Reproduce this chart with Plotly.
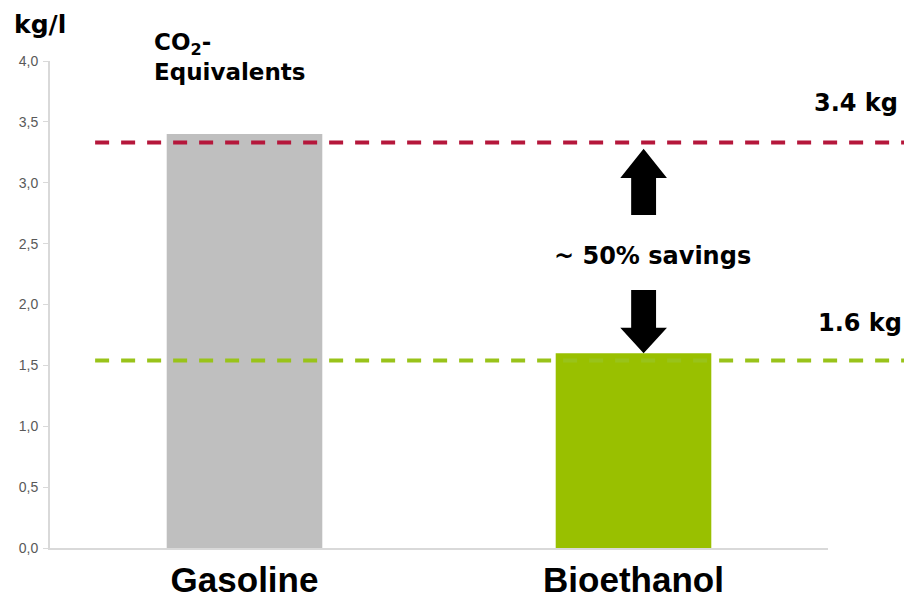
import plotly.graph_objects as go

fuels = ["Gasoline", "Bioethanol"]
co2_kg_per_l = [3.4, 1.6]
bar_colors = ["#bfbfbf", "#99c000"]
ref_levels = [3.33, 1.54]
ref_labels = ["3.4 kg", "1.6 kg"]
ref_colors = ["#b5173b", "#99c31a"]
tick_vals = [0, 0.5, 1, 1.5, 2, 2.5, 3, 3.5, 4]
tick_text = ["0,0", "0,5", "1,0", "1,5", "2,0", "2,5", "3,0", "3,5", "4,0"]

fig = go.Figure()
fig.add_trace(go.Bar(x=fuels, y=co2_kg_per_l, marker=dict(color=bar_colors, line=dict(width=0)),
                     width=0.4, hoverinfo="x+y"))

# dashed reference lines, drawn over the bars, running off to the right edge
for lvl, col in zip(ref_levels, ref_colors):
    fig.add_shape(type="line", xref="paper", yref="y", x0=0.058, x1=1.11, y0=lvl, y1=lvl,
                  line=dict(color=col, width=4, dash="14px,12px"), layer="above")

label_x = [1.093, 1.098]
label_y = [(548 - 103) / 487, (548 - 323) / 487]
for lab, lx, ly in zip(ref_labels, label_x, label_y):
    fig.add_annotation(xref="paper", yref="paper", x=lx, y=ly, text=f"<b>{lab}</b>",
                       showarrow=False, xanchor="right", yanchor="middle",
                       font=dict(family="DejaVu Sans", size=24, color="black"))

# block arrows
cx, sw, hw = 0.763, 0.016, 0.030
up = [(cx, 3.28), (cx + hw, 3.04), (cx + sw, 3.04), (cx + sw, 2.735),
      (cx - sw, 2.735), (cx - sw, 3.04), (cx - hw, 3.04)]
down = [(cx, 1.60), (cx + hw, 1.81), (cx + sw, 1.81), (cx + sw, 2.12),
        (cx - sw, 2.12), (cx - sw, 1.81), (cx - hw, 1.81)]
for pts in (up, down):
    path = "M " + " L ".join(f"{x},{y}" for x, y in pts) + " Z"
    fig.add_shape(type="path", xref="paper", yref="y", path=path,
                  fillcolor="black", line=dict(width=0), layer="above")

fig.add_annotation(xref="paper", yref="paper", x=(652 - 50) / 778, y=(548 - 256) / 487,
                   text="<b>~ 50% savings</b>", showarrow=False,
                   xanchor="center", yanchor="middle",
                   font=dict(family="DejaVu Sans", size=24, color="black"))

fig.add_annotation(xref="paper", yref="paper", x=(12 - 50) / 778, y=(548 - 24) / 487,
                   text="<b>kg/l</b>", showarrow=False, xanchor="left", yanchor="middle",
                   font=dict(family="DejaVu Sans", size=25, color="black"))
fig.add_annotation(xref="paper", yref="paper", x=(152 - 50) / 778, y=(548 - 57) / 487,
                   text="<b>CO<sub>2</sub>-<br>Equivalents</b>", showarrow=False,
                   xanchor="left", yanchor="middle", align="left",
                   font=dict(family="DejaVu Sans", size=23, color="black"))

# the page body has an 8px margin, so the figure is sized 8px short of the window
fig.update_layout(
    width=904, height=593,
    margin=dict(l=42, r=84, t=53, b=53),
    plot_bgcolor="white", paper_bgcolor="white",
    showlegend=False,
    bargap=0.6,
    xaxis=dict(showline=True, linecolor="#d9d9d9", linewidth=2, ticks="", automargin=False,
               tickfont=dict(family="Liberation Sans", size=35, color="black"),
               tickvals=fuels, ticktext=[f"<b>{f}</b>" for f in fuels],
               ticklabelstandoff=0),
    yaxis=dict(range=[0, 4], showgrid=False, zeroline=False, showline=True, automargin=False,
               linecolor="#d9d9d9", linewidth=2, ticks="outside", ticklen=5,
               tickcolor="#d9d9d9", tickvals=tick_vals, ticktext=tick_text,
               ticklabelstandoff=2,
               tickfont=dict(family="Liberation Sans", size=14, color="#595959")),
)

fig.write_html("out.html")
